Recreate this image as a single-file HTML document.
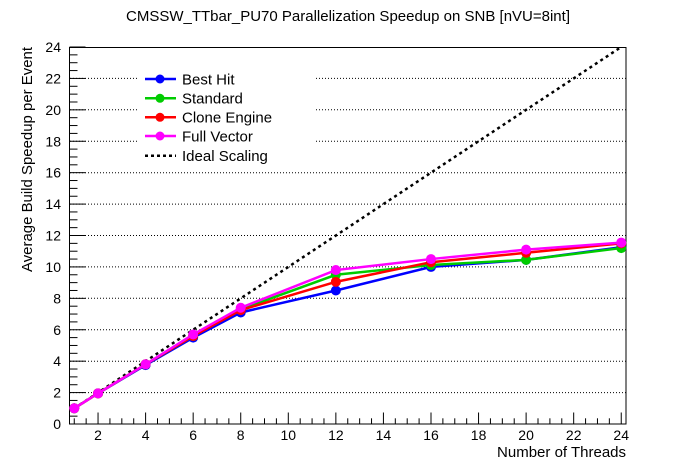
<!DOCTYPE html>
<html><head><meta charset="utf-8"><style>
html,body{margin:0;padding:0;background:#fff;}
svg{display:block;font-family:"Liberation Sans",Arial,sans-serif;}
</style></head><body>
<svg width="696" height="472" viewBox="0 0 696 472" xmlns="http://www.w3.org/2000/svg">
<rect width="696" height="472" fill="#fff"/>
<text x="348" y="21" font-size="15" text-anchor="middle" textLength="444" lengthAdjust="spacingAndGlyphs">CMSSW_TTbar_PU70 Parallelization Speedup on SNB [nVU=8int]</text>
<!-- grid -->
<g stroke="#000" stroke-width="1" stroke-dasharray="1,2">
<line x1="70" y1="392.6" x2="626" y2="392.6"/>
<line x1="70" y1="361.2" x2="626" y2="361.2"/>
<line x1="70" y1="329.8" x2="626" y2="329.8"/>
<line x1="70" y1="298.3" x2="626" y2="298.3"/>
<line x1="70" y1="266.9" x2="626" y2="266.9"/>
<line x1="70" y1="235.5" x2="626" y2="235.5"/>
<line x1="70" y1="204.1" x2="626" y2="204.1"/>
<line x1="70" y1="172.7" x2="626" y2="172.7"/>
<line x1="70" y1="141.3" x2="626" y2="141.3"/>
<line x1="70" y1="109.8" x2="626" y2="109.8"/>
<line x1="70" y1="78.4" x2="626" y2="78.4"/>
</g>
<!-- frame -->
<rect x="69.5" y="47.5" width="556.5" height="376.5" fill="none" stroke="#000" stroke-width="1"/>
<g stroke="#000" stroke-width="1" id="yt"></g>
<g stroke="#000" stroke-width="1" id="xt"></g>
<g font-size="14" text-anchor="end">
<text x="61" y="429">0</text>
<text x="61" y="397.6">2</text>
<text x="61" y="366.2">4</text>
<text x="61" y="334.8">6</text>
<text x="61" y="303.3">8</text>
<text x="61" y="271.9">10</text>
<text x="61" y="240.5">12</text>
<text x="61" y="209.1">14</text>
<text x="61" y="177.7">16</text>
<text x="61" y="146.3">18</text>
<text x="61" y="114.8">20</text>
<text x="61" y="83.4">22</text>
<text x="61" y="52">24</text>
</g>
<g font-size="14" text-anchor="middle">
<text x="98" y="440">2</text>
<text x="145.6" y="440">4</text>
<text x="193.2" y="440">6</text>
<text x="240.7" y="440">8</text>
<text x="288.3" y="440">10</text>
<text x="335.9" y="440">12</text>
<text x="383.4" y="440">14</text>
<text x="431" y="440">16</text>
<text x="478.6" y="440">18</text>
<text x="526.1" y="440">20</text>
<text x="573.7" y="440">22</text>
<text x="621.2" y="440">24</text>
</g>
<text x="626" y="457" font-size="15" text-anchor="end">Number of Threads</text>
<text transform="translate(32,47) rotate(-90)" font-size="15" text-anchor="end" textLength="225" lengthAdjust="spacingAndGlyphs">Average Build Speedup per Event</text>
<!-- ideal -->
<line x1="74.3" y1="408.3" x2="621.2" y2="47" stroke="#000" stroke-width="2.5" stroke-dasharray="3,3.5"/>
<g id="series"></g>
<!-- legend -->
<rect x="137" y="65" width="178" height="101" fill="#fff"/>
<g font-size="15">
<line x1="145" y1="79" x2="176" y2="79" stroke="#0000ff" stroke-width="2.5"/><circle cx="160" cy="79" r="4.5" fill="#0000ff"/>
<text x="182" y="84.3">Best Hit</text>
<line x1="145" y1="98.3" x2="176" y2="98.3" stroke="#00cc00" stroke-width="2.5"/><circle cx="160" cy="98.3" r="4.5" fill="#00cc00"/>
<text x="182" y="103.6">Standard</text>
<line x1="145" y1="117.3" x2="176" y2="117.3" stroke="#ff0000" stroke-width="2.5"/><circle cx="160" cy="117.3" r="4.5" fill="#ff0000"/>
<text x="182" y="122.6">Clone Engine</text>
<line x1="145" y1="136" x2="176" y2="136" stroke="#ff00ff" stroke-width="2.5"/><circle cx="160" cy="136" r="4.5" fill="#ff00ff"/>
<text x="182" y="141.3">Full Vector</text>
<line x1="145" y1="155.7" x2="176" y2="155.7" stroke="#000" stroke-width="2.5" stroke-dasharray="3,3"/>
<text x="182" y="161">Ideal Scaling</text>
</g>
</svg>
<script>
(function(){
var NS="http://www.w3.org/2000/svg";
function X(x){return 69.5+(x-0.8)*23.782;}
function Y(y){return 424-y*15.708;}
var yt=document.getElementById("yt"),xt=document.getElementById("xt");
function ln(g,x1,y1,x2,y2){var l=document.createElementNS(NS,"line");l.setAttribute("x1",x1);l.setAttribute("y1",y1);l.setAttribute("x2",x2);l.setAttribute("y2",y2);g.appendChild(l);}
for(var i=0;i<=48;i++){var v=i*0.5;var y=Y(v);var len=(i%4==0)?16:8;ln(yt,69.5,y,69.5+len,y);}
for(var i=2;i<=48;i++){var v=i*0.5;var x=X(v);var len=(i%4==0)?11.5:5.7;ln(xt,x,424,x,424-len);}
var xs=[1,2,4,6,8,12,16,20,24];
var S=[
["#0000ff",[1,1.95,3.75,5.5,7.1,8.5,10.0,10.45,11.25]],
["#00cc00",[1,1.95,3.8,5.6,7.3,9.5,10.12,10.45,11.2]],
["#ff0000",[1,1.95,3.8,5.6,7.25,9.05,10.3,10.9,11.5]],
["#ff00ff",[1,1.95,3.8,5.7,7.4,9.8,10.5,11.1,11.55]]
];
var g=document.getElementById("series");
S.forEach(function(s){
var pts=xs.map(function(x,i){return X(x).toFixed(2)+","+Y(s[1][i]).toFixed(2);}).join(" ");
var p=document.createElementNS(NS,"polyline");p.setAttribute("points",pts);p.setAttribute("fill","none");p.setAttribute("stroke",s[0]);p.setAttribute("stroke-width","2.5");g.appendChild(p);
xs.forEach(function(x,i){var c=document.createElementNS(NS,"circle");c.setAttribute("cx",X(x));c.setAttribute("cy",Y(s[1][i]));c.setAttribute("r","5");c.setAttribute("fill",s[0]);g.appendChild(c);});
});
})();
</script>
</body></html>
